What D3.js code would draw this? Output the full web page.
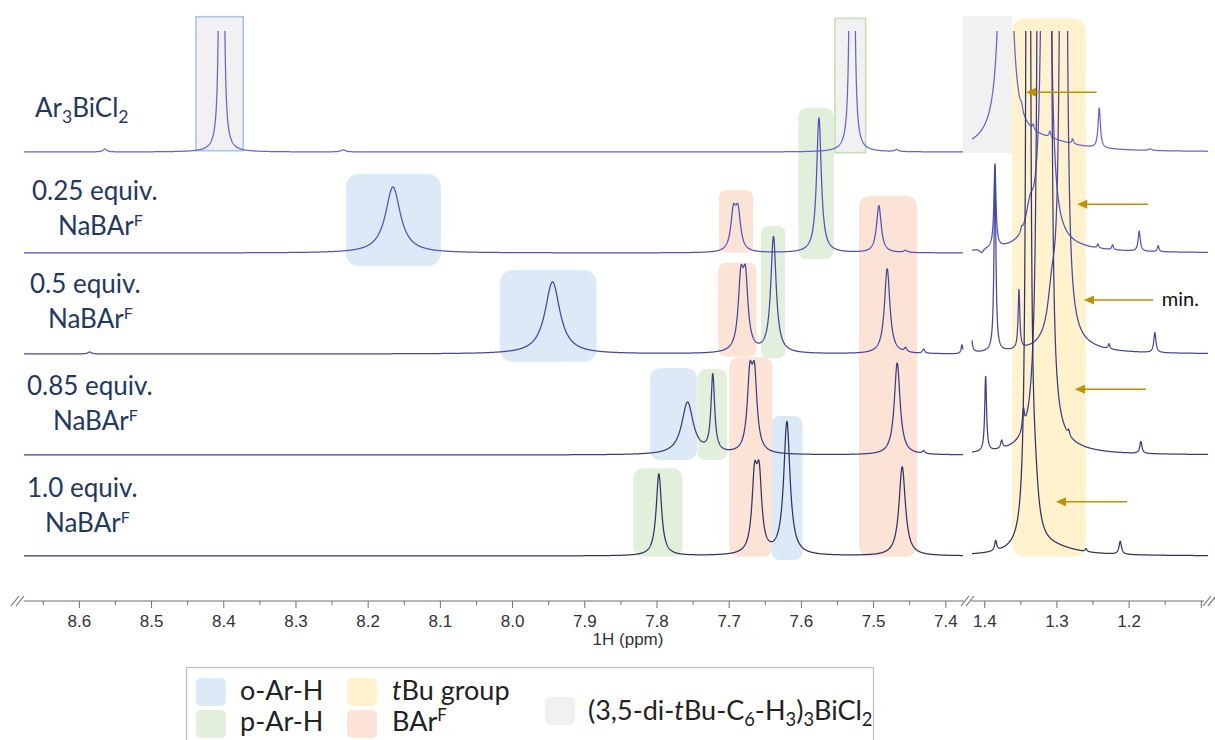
<!DOCTYPE html>
<html><head><meta charset="utf-8">
<script src="https://cdn.jsdelivr.net/npm/d3@7"></script>
<style>body{margin:0;background:#fff}</style>
</head><body>
<svg id="c" width="1215" height="740"></svg>
<script>
// ---------------- DATA ----------------
// Peaks: [ppm, height, half-width (ppm)]
const r1Left  = [[8.4040,555,0.00139],[8.4008,555,0.00139],[8.564,3,0.003],[8.234,2,0.004],[7.5307,555,0.00139],[7.5276,555,0.00139],[7.4675,2,0.003]];
const r1Right = [[1.3706,2000,0.00277],[1.3706,12,0.0346],[1.3159,8,0.0485],[1.3482,6,0.0014],[1.3323,5,0.0014],[1.3091,6,0.0014],[1.2776,5,0.0014],[1.2407,40,0.0019],[1.170,1.5,0.003]];
const r2Left  = [[8.165,66,0.0125],[7.6935,37,0.0043],[7.6871,37,0.0043],[7.575,135,0.0039],[7.492,47,0.0039],[7.455,2,0.003]];
const r2Right = [[1.4036,-4,0.0028],[1.3852,84,0.0017],[1.3482,4,0.0014],[1.3367,25,0.0069],[1.3143,5000,0.00166],[1.3146,6,0.0554],[1.2425,4,0.0014],[1.2222,5,0.0014],[1.1853,20,0.0018],[1.1590,6,0.0014]];
const r3Left  = [[8.585,2,0.003],[7.944,72,0.0125],[7.6832,66,0.0043],[7.6768,66,0.0043],[7.638,116,0.0045],[7.4805,85,0.0045],[7.455,4,0.002],[7.430,4,0.002],[7.377,9,0.0014]];
const r3Right = [[1.4184,20,0.0017],[1.3852,186,0.0015],[1.3519,59,0.0014],[1.3062,40,0.0069],[1.2903,5700,0.001385],[1.2813,6,0.04155],[1.2272,5,0.0014],[1.1636,20,0.0018]];
const r4Left  = [[7.757,52,0.0097],[7.722,77,0.003],[7.6707,70,0.0043],[7.6643,70,0.0043],[7.4666,92,0.0048],[7.430,3,0.002]];
const r4Right = [[1.3981,75,0.0015],[1.3759,8,0.0017],[1.3457,20,0.00166],[1.32216,5500,0.001385],[1.31039,3500,0.001385],[1.3021,6,0.04155],[1.2830,5,0.0014],[1.1830,12,0.0018]];
const r5Left  = [[7.7967,82,0.0044],[7.6642,70,0.0043],[7.6578,70,0.0043],[7.6194,133,0.0053],[7.4597,89,0.0053]];
const r5Right = [[1.3842,10,0.0017],[1.33906,3600,0.001385],[1.32978,40,0.00554],[1.30956,8,0.04155],[1.2590,3,0.0014],[1.2116,13,0.0021]];

const rowPeaksLeft  = [r1Left, r2Left, r3Left, r4Left, r5Left];
const rowPeaksRight = [r1Right, r2Right, r3Right, r4Right, r5Right];
const rowOffsets = [404, 303, 202, 101, 0];
const rowColors = ["#6464d8", "#5252c0", "#4646a6", "#3c3c86", "#32326a"];

const leftTicks = [8.6,8.5,8.4,8.3,8.2,8.1,8.0,7.9,7.8,7.7,7.6,7.5,7.4];
const leftMinor = [8.65,8.55,8.45,8.35,8.25,8.15,8.05,7.95,7.85,7.75,7.65,7.55,7.45];
const rightTicks = [1.4,1.3,1.2];
const rightMinor = [1.35,1.25,1.15];
const rightEndTick = [1.1];

// boxes: [seg, ppm1, ppm2, uTop, uBottom, kind, rx]
const boxes = [
  ["L",8.4380,8.3724,539.3,405.3,"grayB",0],
  ["L",7.5529,7.5104,537.7,403.3,"grayG",0],
  ["R",1.4295,1.3616,540,403,"gray",0],
  ["R",1.3616,1.2591,537.7,-0.7,"yellow",13],
  ["L",8.2302,8.0986,382,290,"blue",13],
  ["L",7.7136,7.6661,366,303.3,"orange",8],
  ["L",7.6037,7.5543,448.3,296.7,"green",9],
  ["L",7.5197,7.4389,360.3,-0.7,"orange",12],
  ["L",7.6554,7.6217,330,197.7,"green",7],
  ["L",8.0169,7.8830,286,194,"blue",13],
  ["L",7.7146,7.6614,293.3,199.3,"orange",8],
  ["L",7.8092,7.7437,187.7,96,"blue",10],
  ["L",7.7431,7.7021,186.7,96,"green",8],
  ["L",7.6993,7.6392,198.7,-0.7,"orange",9],
  ["L",7.6406,7.5977,140,-4,"blue",8],
  ["L",7.8323,7.7638,87.7,-0.7,"green",10]
];
const boxFill = {blue:"#dce9f6", green:"#e2efda", orange:"#fbe4d6", yellow:"#fff2cc", gray:"#f1f1f1", grayB:"#f1f1f1", grayG:"#f1f1f1"};
const boxStroke = {grayB:"#a8c8e8", grayG:"#c6e0b5"};

// arrows: [ppmTip, ppmTail, u]
const arrows = [[1.3422,1.2443,463.7],[1.2712,1.1729,351.7],[1.2619,1.1659,256],[1.2744,1.1760,166.7],[1.3007,1.2019,54.3]];

const rowLabels = [
  {x:35, y:117, parts:[["Ar"],["3","sub"],["BiCl"],["2","sub"]]},
  {x:32, y:200, parts:[["0.25 equiv."]]},
  {x:58, y:235, parts:[["NaBAr"],["F","sup"]]},
  {x:30, y:293, parts:[["0.5 equiv."]]},
  {x:48, y:328, parts:[["NaBAr"],["F","sup"]]},
  {x:27, y:395, parts:[["0.85 equiv."]]},
  {x:53, y:430, parts:[["NaBAr"],["F","sup"]]},
  {x:27, y:497, parts:[["1.0 equiv."]]},
  {x:45, y:532, parts:[["NaBAr"],["F","sup"]]}
];

const legendItems = [
  {kind:"blue",   sx:196, sy:678, tx:240, ty:700, parts:[["o-Ar-H"]]},
  {kind:"green",  sx:196, sy:710, tx:240, ty:731, parts:[["p-Ar-H"]]},
  {kind:"yellow", sx:347, sy:678, tx:392, ty:700, parts:[["t","it"],["Bu group"]]},
  {kind:"orange", sx:347, sy:710, tx:392, ty:731, parts:[["BAr"],["F","sup"]]},
  {kind:"gray",   sx:545, sy:697, tx:588, ty:720, parts:[["(3,5-di-"],["t","it"],["Bu-C"],["6","sub"],["-H"],["3","sub"],[")"],["3","sub"],["BiCl"],["2","sub"]]}
];

// ---------------- SCALES ----------------
const svg = d3.select("#c");
const xL = d3.scaleLinear().domain([8.676, 7.3755]).range([24, 963]);
const xR = d3.scaleLinear().domain([1.417, 1.090]).range([972, 1208]);
const y = d3.scaleLinear().domain([0, 550]).range([556, 6]);
const axisY = 601;

// ---------------- BOXES ----------------
const gBox = svg.append("g");
boxes.forEach(([seg,p1,p2,u1,u2,kind,rx]) => {
  const xs = seg === "L" ? xL : xR;
  const x1 = xs(p1), x2 = xs(p2);
  gBox.append("rect")
    .attr("x", Math.min(x1,x2)).attr("y", y(u1))
    .attr("width", Math.abs(x2-x1)).attr("height", y(u2)-y(u1))
    .attr("rx", rx).attr("ry", rx)
    .attr("fill", boxFill[kind])
    .attr("stroke", boxStroke[kind] || "none")
    .attr("stroke-width", boxStroke[kind] ? 1.6 : 0);
});

// ---------------- SPECTRA ----------------
svg.append("clipPath").attr("id","clipTop").append("rect")
  .attr("x",0).attr("y",31).attr("width",1215).attr("height",600);
const gSpec = svg.append("g").attr("clip-path","url(#clipTop)");

function sample(peaks, xs, off) {
  const [a, b] = xs.domain();
  const pxLen = Math.abs(xs(b) - xs(a));
  const n = Math.ceil(pxLen / 0.2);
  return d3.range(n + 1).map(i => {
    const p = a + (b - a) * i / n;
    let v = 0;
    for (const [c, h, w] of peaks) v += h * w * w / ((p - c) * (p - c) + w * w);
    return [p, off + v];
  });
}
for (let r = 0; r < 5; r++) {
  [[rowPeaksLeft[r], xL], [rowPeaksRight[r], xR]].forEach(([pk, xs]) => {
    const line = d3.line().x(d => xs(d[0])).y(d => Math.max(-50, y(d[1])));
    gSpec.append("path").datum(sample(pk, xs, rowOffsets[r]))
      .attr("d", line).attr("fill","none")
      .attr("stroke", rowColors[r]).attr("stroke-width", 1.25)
      .attr("stroke-linejoin","round");
  });
}

// ---------------- ARROWS ----------------
const gold = "#bf9000";
arrows.forEach(([pt, pe, u]) => {
  const xt = xR(pt), xe = xR(pe), yy = y(u);
  svg.append("line").attr("x1", xt + 8).attr("x2", xe).attr("y1", yy).attr("y2", yy)
    .attr("stroke", gold).attr("stroke-width", 1.5);
  svg.append("path").attr("d", `M${xt},${yy} L${xt+10},${yy-4.5} L${xt+10},${yy+4.5} Z`).attr("fill", gold);
});
svg.append("text").attr("x", xR(1.1652) + 8).attr("y", y(256) + 6)
  .attr("font-family","Lato, 'Open Sans', sans-serif").attr("font-size", 20).attr("fill","#111").text("min.");

// ---------------- AXIS ----------------
const gAx = svg.append("g").attr("transform", `translate(0,${axisY})`);
const fmt = d3.format(".1f");
function drawAxis(xs, major, minor, labelled) {
  const a = gAx.append("g").call(d3.axisBottom(xs).tickValues(major).tickFormat(labelled ? fmt : "").tickSize(7).tickSizeOuter(0));
  a.select(".domain").remove();
  a.selectAll("line").attr("stroke","#6e6e6e");
  a.selectAll("text").attr("font-family","'Liberation Sans', Arial, sans-serif").attr("font-size",17).attr("fill","#333").attr("dy","0.95em");
  const b = gAx.append("g").call(d3.axisBottom(xs).tickValues(minor).tickFormat("").tickSize(4).tickSizeOuter(0));
  b.select(".domain").remove();
  b.selectAll("line").attr("stroke","#6e6e6e");
}
drawAxis(xL, leftTicks, leftMinor, true);
drawAxis(xR, rightTicks, rightMinor, true);
drawAxis(xR, rightEndTick, [], false);
gAx.append("line").attr("x1", 24).attr("x2", 964).attr("y1",0).attr("y2",0).attr("stroke","#6e6e6e").attr("stroke-width",1.2);
gAx.append("line").attr("x1", 971).attr("x2", 1204).attr("y1",0).attr("y2",0).attr("stroke","#6e6e6e").attr("stroke-width",1.2);
function brk(x) {
  [0, 5].forEach(o => gAx.append("line").attr("x1", x + o - 4).attr("y1", 5).attr("x2", x + o + 4).attr("y2", -5)
    .attr("stroke","#6e6e6e").attr("stroke-width",1.1));
}
brk(15); brk(965); brk(1207);
svg.append("text").attr("x", 628).attr("y", 645).attr("text-anchor","middle")
  .attr("font-family","'Liberation Sans', Arial, sans-serif").attr("font-size",17).attr("fill","#333").text("1H (ppm)");

// ---------------- TEXT HELPERS ----------------
function rich(sel, parts, size) {
  let shift = 0;
  parts.forEach(([t, k]) => {
    const ts = sel.append("tspan").text(t);
    let target = 0;
    if (k === "sub") { ts.attr("font-size", size * 0.68); target = size * 0.22; }
    else if (k === "sup") { ts.attr("font-size", size * 0.62); target = -size * 0.36; }
    else if (k === "it") { ts.attr("font-style","italic"); }
    ts.attr("dy", target - shift);
    shift = target;
  });
}
const labelFont = "Lato, 'Open Sans', sans-serif";
rowLabels.forEach(l => {
  const t = svg.append("text").attr("x", l.x).attr("y", l.y)
    .attr("font-family", labelFont).attr("font-size", 26).attr("fill","#1f3864");
  rich(t, l.parts, 26);
});

// ---------------- LEGEND ----------------
svg.append("rect").attr("x",186.5).attr("y",667.5).attr("width",687).attr("height",90)
  .attr("fill","#fff").attr("stroke","#bfbfbf").attr("stroke-width",1.2);
legendItems.forEach(it => {
  svg.append("rect").attr("x", it.sx).attr("y", it.sy).attr("width", 30).attr("height", 28)
    .attr("rx", 5).attr("fill", boxFill[it.kind]);
  const t = svg.append("text").attr("x", it.tx).attr("y", it.ty)
    .attr("font-family", labelFont).attr("font-size", 27).attr("fill","#222");
  rich(t, it.parts, 27);
});
</script>
</body></html>
